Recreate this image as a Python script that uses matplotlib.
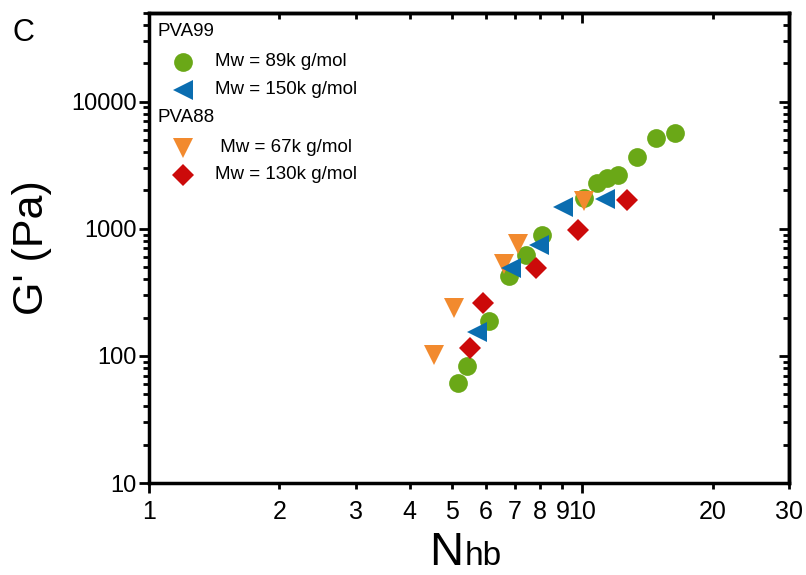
import matplotlib
matplotlib.use("Agg")
import matplotlib.pyplot as plt
from matplotlib.lines import Line2D
from matplotlib.ticker import FixedLocator, FixedFormatter, LogLocator, NullFormatter

plt.rcParams['font.family'] = ['Liberation Sans', 'DejaVu Sans']

# ---- data ----
pva99_89k_x = [5.17, 5.42, 6.09, 6.77, 7.40, 8.09, 10.1, 10.8, 11.4, 12.1, 13.4, 14.8, 16.4]
pva99_89k_y = [61, 83, 189, 427, 623, 897, 1754, 2300, 2510, 2660, 3690, 5120, 5700]

pva99_150k_x = [5.71, 6.84, 7.93, 9.04, 11.3]
pva99_150k_y = [155, 493, 748, 1490, 1722]

pva88_67k_x = [4.55, 5.06, 6.59, 7.10, 10.1]
pva88_67k_y = [102, 239, 530, 762, 1660]

pva88_130k_x = [5.51, 5.90, 7.84, 9.79, 12.7]
pva88_130k_y = [116, 261, 493, 982, 1690]

x_ticks_labeled = [2, 3, 4, 5, 6, 7, 8, 9, 20, 30]
x_major = [1, 10]
y_ticks = [10, 100, 1000, 10000]

green = '#6aa817'
blue = '#0a6db0'
orange = '#f28a2e'
red = '#cc0a0a'

fig = plt.figure(figsize=(8.06, 5.75), dpi=100)
ax = fig.add_axes([0.1849, 0.160, 0.7940, 0.818])

ms = 13.5
ax.plot(pva99_89k_x, pva99_89k_y, 'o', color=green, ms=ms, mew=0, zorder=3)
ax.plot(pva88_67k_x, pva88_67k_y, 'v', color=orange, ms=ms + 1, mew=0, zorder=4)
ax.plot(pva99_150k_x, pva99_150k_y, '<', color=blue, ms=ms + 1, mew=0, zorder=5)
ax.plot(pva88_130k_x, pva88_130k_y, 'D', color=red, ms=ms - 2, mew=0, zorder=6)

ax.set_xscale('log')
ax.set_yscale('log')
ax.set_xlim(1, 30)
ax.set_ylim(10, 50000)

ax.xaxis.set_major_locator(FixedLocator(x_major))
ax.xaxis.set_major_formatter(FixedFormatter([str(v) for v in x_major]))
ax.xaxis.set_minor_locator(FixedLocator(x_ticks_labeled))
ax.xaxis.set_minor_formatter(FixedFormatter([str(v) for v in x_ticks_labeled]))

ax.yaxis.set_major_locator(FixedLocator(y_ticks))
ax.yaxis.set_major_formatter(FixedFormatter([str(v) for v in y_ticks]))
ax.yaxis.set_minor_locator(LogLocator(base=10, subs=range(2, 10)))
ax.yaxis.set_minor_formatter(NullFormatter())

for s in ax.spines.values():
    s.set_linewidth(2.5)

ax.tick_params(axis='x', which='both', direction='out', top=False, labelsize=18, width=2)
ax.tick_params(axis='x', which='major', length=7, pad=5)
ax.tick_params(axis='x', which='minor', length=4, pad=8)
ax.tick_params(axis='y', which='both', direction='out', right=False, labelsize=17, width=2, pad=2)
ax.tick_params(axis='y', which='major', length=7)
ax.tick_params(axis='y', which='minor', length=4)

# inward ticks on top and right
axt = ax.secondary_xaxis('top')
axt.xaxis.set_major_locator(FixedLocator(x_major))
axt.xaxis.set_minor_locator(FixedLocator(x_ticks_labeled))
axt.xaxis.set_major_formatter(NullFormatter())
axt.xaxis.set_minor_formatter(NullFormatter())
axt.tick_params(which='both', direction='in', width=2)
axt.tick_params(which='major', length=7)
axt.tick_params(which='minor', length=4)
axt.spines['top'].set_linewidth(2.5)

axr = ax.secondary_yaxis('right')
axr.yaxis.set_major_locator(FixedLocator(y_ticks))
axr.yaxis.set_minor_locator(LogLocator(base=10, subs=range(2, 10)))
axr.yaxis.set_major_formatter(NullFormatter())
axr.yaxis.set_minor_formatter(NullFormatter())
axr.tick_params(which='both', direction='in', width=2)
axr.tick_params(which='major', length=7)
axr.tick_params(which='minor', length=4)
axr.spines['right'].set_linewidth(2.5)

ax.set_ylabel("G' (Pa)", fontsize=31)
ax.yaxis.set_label_coords(-0.152, 0.5)

# x label: N with 'hb' sub-text, common baseline
base_y = 0.018
nt = fig.text(0.5745, base_y, 'N', fontsize=34, ha='right', va='baseline')
ax.annotate('hb', xy=(1, base_y), xycoords=(nt, 'figure fraction'),
            xytext=(1, 0), textcoords='offset points',
            fontsize=24, ha='left', va='baseline')

fig.text(0.015, 0.943, 'C', fontsize=22, ha='left', va='center')

# manual legend (axes fraction coords)
def px2ax(px, py):
    x0, x1 = 149, 789
    y0, y1 = 483, 13
    return (px - x0) / (x1 - x0), (y0 - py) / (y0 - y1)

lfs = 13.5
tx, ty = px2ax(157, 32)
ax.text(tx, ty, 'PVA99', transform=ax.transAxes, fontsize=lfs, va='center', ha='left')
tx, ty = px2ax(157, 118)
ax.text(tx, ty, 'PVA88', transform=ax.transAxes, fontsize=lfs, va='center', ha='left')

entries = [
    (62, 'o', green, ms, 'Mw = 89k g/mol', 215),
    (90, '<', blue, ms + 1, 'Mw = 150k g/mol', 215),
    (148, 'v', orange, ms + 1, ' Mw = 67k g/mol', 215),
    (175, 'D', red, ms - 2, 'Mw = 130k g/mol', 215),
]
for py, mk, col, msz, lab, tpx in entries:
    mx, my = px2ax(183, py)
    ax.add_line(Line2D([mx], [my], marker=mk, color=col, ms=msz, mew=0,
                       transform=ax.transAxes, linestyle='none'))
    tx, ty = px2ax(tpx, py)
    ax.text(tx, ty, lab, transform=ax.transAxes, fontsize=lfs, va='center', ha='left')

fig.savefig('out.png', dpi=100)
